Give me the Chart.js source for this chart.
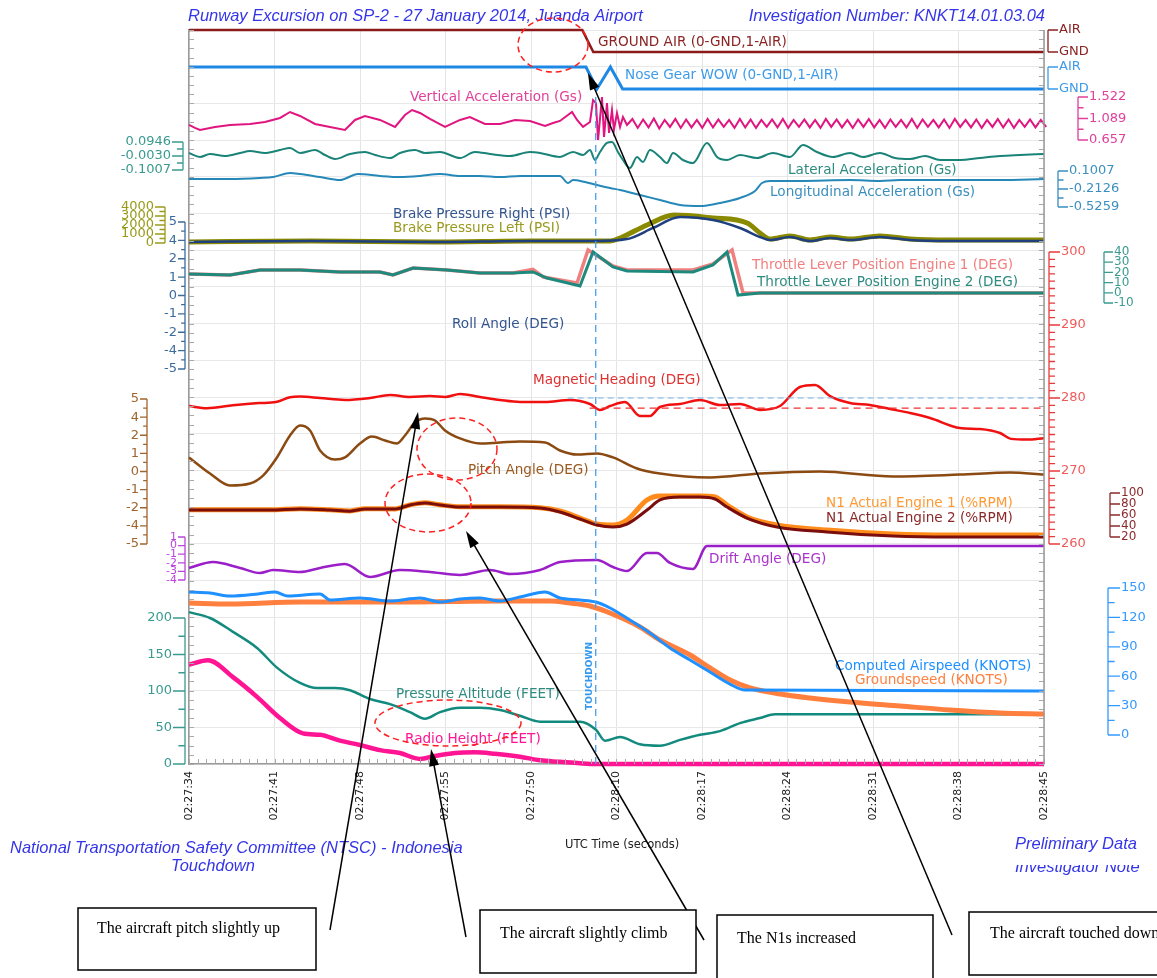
<!DOCTYPE html>
<html>
<head>
<meta charset="utf-8">
<title>Runway Excursion on SP-2 - FDR plot</title>
<script src="https://cdn.jsdelivr.net/npm/chart.js@4.4.1/dist/chart.umd.min.js"></script>
<style>
  html, body { margin: 0; padding: 0; background: #fff; }
  #wrap { position: relative; width: 1157px; height: 978px; }
</style>
</head>
<body>
<div id="wrap"><canvas id="fdr"></canvas></div>
<script>
// -----------------------------------------------------------
// TIME AXIS  (t = seconds after 02:27:34)
// -----------------------------------------------------------
const TIME_LABELS = ["02:27:34","02:27:41","02:27:48","02:27:55","02:27:50","02:28:10",
                     "02:28:17","02:28:24","02:28:31","02:28:38","02:28:45"];
const TOUCHDOWN_T = 33.3;

// -----------------------------------------------------------
// SERIES DATA
// -----------------------------------------------------------
const groundAirT = [0, 32.2, 33.1, 70];
const groundAirV = [1, 1, 0, 0];

const noseWowT = [0, 32.5, 33.4, 34.5, 35.5, 70];
const noseWowV = [1, 1, 0, 1, 0, 0];

const vertAccT = [0,0.49,0.9,2.13,3.36,4.99,6.22,7.45,8.27,9.09,10.32,11.54,12.77,13.59,14.41,15.64,16.87,17.68,18.26,18.91,
                  19.73,20.96,22.19,23.0,24.23,25.46,26.69,27.92,29.15,29.8,30.37,31.36,31.77,32.26,32.83,33.08,33.32,33.49,33.81,33.98,
                  34.22,34.39,34.63,34.79,35.04,35.29,35.53,35.86];
const vertAccV = [0.96,0.90,0.86,0.92,0.96,0.98,1.02,1.10,1.22,1.14,0.98,0.92,0.86,1.06,1.14,1.06,0.92,1.16,1.26,1.20,
                  1.08,0.92,1.06,1.12,0.98,0.98,1.06,1.04,0.94,1.00,1.04,1.22,1.06,0.92,1.02,1.46,1.40,0.66,1.52,0.72,
                  1.40,0.80,1.26,0.86,1.20,0.92,1.12,0.96];
// after touchdown the trace rings at a steady sample step
const vertAccTailStart = 36.3, vertAccTailStep = 0.44;
const vertAccTail = [1.08,0.90,1.07,0.91,1.09,0.89,1.06,0.92,1.08,0.90,1.07,0.91,1.06,0.90,1.08,0.91,1.07,0.92,1.06,0.90,
                     1.08,0.91,1.07,0.90,1.06,0.92,1.07,0.91,1.08,0.90,1.06,0.92,1.07,0.91,1.06,0.90,1.08,0.92,1.07,0.91,
                     1.06,0.90,1.07,0.92,1.08,0.91,1.06,0.90,1.07,0.92,1.06,0.91,1.08,0.90,1.07,0.92,1.06,0.91,1.07,0.90,
                     1.08,0.92,1.06,0.91,1.07,0.90,1.06,0.92,1.08,0.91,1.07,0.90,1.06,0.92,1.07,0.91,1.06,0.92];

const latT = [0,0.9,1.72,2.95,4.18,4.99,6.22,7.45,8.27,9.09,10.32,11.13,11.95,13.18,14.41,15.23,16.46,17.27,18.5,19.32,
              20.55,22.19,23.4,24.64,26.28,27.92,28.74,30.37,31.44,32.26,32.83,33.24,33.65,34.22,34.63,35.12,35.53,36.1,36.68,37.17,
              37.74,38.56,39.13,39.63,40.44,41.26,42.41,43.23,44.05,45.11,46.5,47.81,49.2,50.27,51.41,52.72,54.12,55.18,56.57,57.8,
              59.03,60.26,61.49,63.12,64.76,66.4,68.03,70];
const latV = [0.018,-0.010,0.011,-0.003,0.018,0.032,0.018,0.039,0.053,0.018,0.039,0.004,-0.024,0.011,0.025,0.004,-0.017,0.018,0.039,0.018,
              0.025,-0.017,0.025,0.011,-0.003,0.025,0.018,-0.010,0.025,0.004,0.039,-0.031,0.025,0.088,0.095,0.025,-0.031,-0.087,-0.010,-0.045,
              0.039,-0.010,-0.052,0.018,-0.031,-0.052,0.088,-0.010,-0.031,0.004,-0.017,0.018,-0.010,0.074,0.025,-0.010,0.018,-0.010,0.018,-0.017,
              -0.024,-0.003,-0.031,-0.031,-0.017,-0.003,0.004,0.011];

const lonT = [0,3.36,5.81,6.88,8.27,9.09,10.73,12.36,13.84,15.64,17.27,18.91,20.55,22.19,23.82,25.46,27.1,30.37,31.03,31.44,
              32.42,33.4,34.47,35.29,36.92,38.56,40.2,41.84,43.47,45.11,46.34,46.91,47.57,50.02,54.12,56.57,58.21,62.3,66.4,70];
const lonV = [-0.039,-0.039,-0.021,-0.004,0.066,0.049,-0.004,-0.056,0.049,0.014,-0.004,0.014,0.049,0.014,0.014,-0.004,0.014,0.014,-0.108,-0.056,
              -0.091,-0.143,-0.195,-0.230,-0.317,-0.404,-0.491,-0.509,-0.456,-0.369,-0.247,-0.108,-0.073,-0.073,-0.056,-0.073,-0.056,-0.056,-0.056,-0.039];

const brakeRT = [0,10,20,28,33.1,35.86,37.99,40.2,42.9,45.11,46.75,47.57,49.2,50.84,52.48,54.12,56.57,59.03,62.3,70];
const brakeRV = [110,220,110,220,220,440,1670,2890,2560,1670,670,330,670,220,560,330,670,330,220,220];
const brakeLT = [0,10,20,28,34.5,35.3,37.5,39.7,42.9,45.7,46.75,47.57,49.2,50.84,52.48,54.12,56.57,59.03,62.3,70];
const brakeLV = [110,220,110,220,220,560,2000,3110,2780,2220,1110,440,780,330,670,440,780,440,330,330];

const thr1T = [0,3.36,5.81,9.09,12.36,15.64,16.7,18.34,21.12,23.82,26.53,28.16,29.0,31.77,32.67,34.71,35.86,41.26,42.9,44.46,45.36,70];
const thr1V = [18.4,17.5,22.4,22.4,20.4,20.4,17.5,24.3,22.4,19.4,19.4,23.0,15.5,9.6,42.0,26.3,22.4,22.4,28.3,42.0,-0.2,-0.2];
const thr2T = [0,3.36,5.81,9.09,12.36,15.64,16.7,18.34,21.12,23.82,26.53,28.16,29.31,32.01,33.08,34.71,35.86,41.26,42.9,44.05,44.95,46.75,70];
const thr2V = [18.4,17.5,22.4,22.4,20.4,20.4,17.5,24.3,22.4,19.4,19.4,20.4,14.5,6.7,40,25.3,21.4,20.4,27.3,40,-2.2,-0.2,-0.2];

const rollT = [0,1.23,2.37,3.36,4.34,6.3,7.2,9.09,10.73,12.94,14.0,15.64,17.27,18.91,19.73,20.55,23.0,23.82,25.46,27.1,
               28.74,30.37,32.01,33.65,35.29,37.74,40.2,41.84,44.29,46.75,49.2,51.66,54.12,56.57,59.03,61.49,64.76,67.3,70];
const rollV = [-0.1,0.37,-0.3,-0.85,-0.85,0.85,1.05,0.65,-0.31,-2.14,-1.33,-0.44,-0.51,-0.17,-0.51,-0.1,-1.12,-1.33,-1.12,-0.85,
               -0.78,-0.51,-0.31,-0.03,-0.31,-0.44,-0.51,-0.58,-0.37,-0.17,-0.1,0.17,0.17,0.17,0.37,0.24,0.17,-0.17,-0.31];

const hdgT = [0,1.47,3.6,5.73,7.12,8.27,9.09,10.73,12.77,14.82,16.46,18.09,19.73,20.96,22.19,23.82,25.46,27.1,29.15,31.19,
              32.83,33.65,34.47,35.7,36.92,37.74,38.56,40.2,41.84,43.47,45.11,46.75,48.39,50.02,51.25,52.48,54.12,55.75,57.39,59.03,
              60.67,63.12,64.76,66.4,67.3,68.6,70];
const hdgV = [278.9,278.6,279.0,279.3,279.45,280.1,280.2,280.0,279.73,280.0,280.41,280.14,280.27,280.14,280.55,280.14,279.73,279.45,279.45,279.73,
              279.18,278.36,278.9,279.45,277.53,277.53,278.77,279.18,279.73,279.04,279.18,278.36,278.9,281.51,281.78,280.27,279.32,279.04,278.49,277.95,
              277.26,275.89,275.75,275.2,274.4,274.3,274.5];
const hdgRefBlue = 280, hdgRefRed = 278.6;

const pitchT = [0,1.72,3.36,4.99,6.06,7.2,8.27,9.09,9.91,10.73,11.95,12.77,14.0,14.98,16.05,17.03,17.68,18.5,19.32,20.14,
                20.96,22.19,23.82,25.46,27.1,29.15,30.37,31.77,33.4,34.71,36.68,38.56,42.65,46.75,51.66,57.64,63.12,67.22,70];
const pitchV = [0.97,-0.14,-0.97,-0.83,-0.28,0.97,2.48,3.17,2.83,1.45,0.83,0.97,1.93,2.41,2.14,1.93,2.48,3.38,3.66,3.52,
                2.83,2.28,1.93,2.0,2.07,2.0,1.45,1.17,1.24,0.97,0.21,-0.14,-0.41,-0.14,0,-0.34,-0.21,-0.07,-0.21];

const n1T  = [0,3.36,6.63,9.09,11.54,13.18,14.41,16.87,18.09,19.32,20.55,22.19,25.46,28.74,30.37,32.01,33.4,34.71,35.86,37.5,
              38.56,40.2,41.84,43.06,44.05,45.68,48.14,52.23,57.64,62.3,70];
const n1E1 = [69.5,69.5,69.5,71.5,69.5,67.5,71.5,71,78.5,82.5,78.5,75,75,73,67.3,54.5,43.6,41.8,50.9,87.3,
              94.5,94.5,94.5,92.7,78.2,56.4,41.8,32.7,25.5,23.6,23.6];
const n1E2 = [69.1,69.1,69.1,71,69.1,67,71,70.9,78.2,81.8,78.2,74.5,74.5,72.7,65.5,52.7,41.8,38.2,43.6,69.1,
              87.3,92.7,92.7,89.1,74.5,54.5,38.2,29.1,21.8,20,20];

const driftT = [0,1.96,4.18,5.81,6.88,9.09,10.73,12.77,14.82,17.27,19.73,22.19,24.64,26.28,28.74,30.37,33.4,34.71,35.86,37.5,
                38.31,39.38,41.26,42.41,70];
const driftV = [-2.6,-1.91,-2.6,-3.19,-2.84,-3.07,-2.6,-2.14,-3.65,-2.84,-3.07,-3.42,-2.84,-3.3,-2.84,-1.91,-1.67,-2.49,-2.95,-0.86,
                -0.86,-2.02,-2.72,-0.05,-0.05];

const casT = [0,1.72,3.36,5.65,7.04,8.1,10.73,11.54,14.0,16.46,18.91,20.55,22.19,23.82,25.46,27.1,29.15,30.37,32.01,33.32,
              34.47,36.1,37.74,39.38,41.02,42.65,44.29,45.52,70];
const casV = [145.9,144.9,141.8,143.9,145.9,141.8,143.9,137.8,139.8,136.7,139.8,135.7,138.8,139.8,136.7,140.8,145.9,139.8,137.8,135.7,
              129.6,117.3,104.1,88.8,76.5,64.3,52.0,45.9,44.9];
const gsT = [0,3.36,9.09,17.27,25.46,29.56,31.19,32.83,34.47,36.92,38.56,41.02,42.65,44.29,45.93,48.39,50.84,54.12,58.21,62.3,66.4,70];
const gsV = [134.7,133.7,135.7,135.7,136.7,136.7,134.7,131.6,124.5,110.2,96.9,81.6,68.4,56.1,48.0,41.8,37.8,33.7,29.6,25.5,22.4,21.4];

const altT = [0,1.72,3.6,5.57,7.2,9.09,10.48,11.95,13.18,14.82,16.46,18.09,19.32,20.55,22.19,23.82,25.46,27.1,28.74,30.37,
              32.01,33.32,34.06,35.29,36.92,38.56,40.2,41.84,43.47,45.11,46.75,47.98,50.02,70];
const altV = [208,200,181,159,132,111,104,104,101,89,82,71,62,71,77,77,74,66,58,58,
              58,47,32,37,27,25,33,40,45,56,63,68,68,68];
const radT = [0,1.56,3.6,5.57,7.45,9.33,10.73,12.36,14.0,15.64,17.27,18.91,20.14,21.78,23.41,25.05,27.1,28.74,30.37,32.01,33.32,70];
const radV = [136,142,119,92,63,42,40,32,26,19,15,7,11,15,16,14,10,5,3,1,0,0];

// -----------------------------------------------------------
// AXIS TICKS (each trace has its own little scale)
// -----------------------------------------------------------
const gndAirTicks = [1, 0], gndAirLabels = ["AIR", "GND"];
const vertTicks = [1.522, 1.089, 0.657];
const latTicks = [0.0946, -0.0030, -0.1007];
const lonTicks = [0.1007, -0.2126, -0.5259];
const brakeTicks = [4000, 3000, 2000, 1000, 0];
const degTicks = [5, 3.75, 2.5, 1.25, 0, -1.25, -2.5, -3.75, -5];
const degLabels = ["5", "4", "2", "1", "0", "-1", "-2", "-4", "-5"];
const thrTicks = [40, 30, 20, 10, 0, -10];
const hdgTicks = [300, 290, 280, 270, 260];
const n1Ticks = [100, 80, 60, 40, 20];
const driftTicks = [1, 0, -1, -2, -3, -4];
const altTicks = [200, 150, 100, 50, 0];
const spdTicks = [150, 120, 90, 60, 30, 0];

// -----------------------------------------------------------
// LAYOUT
// -----------------------------------------------------------
const AREA_TOP = 30, AREA_BOTTOM = 764;

// scale whose range puts vTop at pixel pTop and vBot at pixel pBot
function band(vTop, pTop, vBot, pBot) {
  const k = (pBot - pTop) / (vTop - vBot);
  return { type: "linear", display: false,
           max: vTop + (pTop - AREA_TOP) / k, min: vBot - (AREA_BOTTOM - pBot) / k };
}

function pts(ts, vs) { return ts.map((t, i) => ({ x: t, y: vs[i] })); }

function line(label, data, axis, color, width, smooth, extra) {
  return Object.assign({
    label, data, yAxisID: axis, borderColor: color, backgroundColor: color,
    borderWidth: width, pointRadius: 0, fill: false, clip: 6,
    tension: 0, cubicInterpolationMode: smooth ? "monotone" : "default"
  }, extra || {});
}

const vertAccPts = pts(vertAccT, vertAccV)
  .concat(vertAccTail.map((v, i) => ({ x: vertAccTailStart + i * vertAccTailStep, y: v })));

const datasets = [
  line("Touchdown", [{ x: TOUCHDOWN_T, y: 0 }, { x: TOUCHDOWN_T, y: 18.2 }], "grid", "#4A9FE8", 1.3, false, { borderDash: [7, 5] }),
  line("Ground Air", pts(groundAirT, groundAirV), "ga", "#8B1A1A", 2.5, false),
  line("Nose Gear WOW", pts(noseWowT, noseWowV), "nose", "#1E88E5", 3, false),
  line("Vertical Acceleration", vertAccPts, "vacc", "#E0157F", 2, false),
  line("Lateral Acceleration", pts(latT, latV), "lat", "#1A8377", 2, true),
  line("Longitudinal Acceleration", pts(lonT, lonV), "lon", "#2588B8", 2, true),
  line("Brake Pressure Right", pts(brakeRT, brakeRV), "brake", "#1F3F7F", 2.5, true),
  line("Brake Pressure Left", pts(brakeLT, brakeLV), "brake", "#8A8A00", 5, true),
  line("Throttle 2", pts(thr2T, thr2V), "thr", "#1E8A7E", 3, false),
  line("Throttle 1", pts(thr1T, thr1V), "thr", "#F08080", 3.5, false),
  line("Roll Angle", pts(rollT, rollV), "roll", "#174B7A", 2.5, true),
  line("Heading ref blue", [{ x: 31.0, y: hdgRefBlue }, { x: 70, y: hdgRefBlue }], "hdg", "#7AB4EA", 1.2, false, { borderDash: [6, 4] }),
  line("Heading ref red", [{ x: 32.8, y: hdgRefRed }, { x: 70, y: hdgRefRed }], "hdg", "#F03030", 1.2, false, { borderDash: [7, 5] }),
  line("Magnetic Heading", pts(hdgT, hdgV), "hdg", "#F01010", 2.5, true),
  line("Pitch Angle", pts(pitchT, pitchV), "pitch", "#8B4A12", 2.5, true),
  line("N1 Engine 2", pts(n1T, n1E2), "n1", "#7B0D0D", 3, true),
  line("N1 Engine 1", pts(n1T, n1E1), "n1", "#FF8C1A", 5, true),
  line("Drift Angle", pts(driftT, driftV), "drift", "#9B1FC8", 2.5, true),
  line("Computed Airspeed", pts(casT, casV), "spd", "#1E90FF", 3, true),
  line("Groundspeed", pts(gsT, gsV), "spd", "#FF7F3F", 5, true),
  line("Radio Height", pts(radT, radV), "alt", "#FF1493", 4.5, true),
  line("Pressure Altitude", pts(altT, altV), "alt", "#138A7E", 2.5, true)
];

// -----------------------------------------------------------
// DECORATION: custom axes, labels, notes
// -----------------------------------------------------------
const AXES = [
  { id: "ga",    side: "R", x: 1048, ticks: gndAirTicks, labels: gndAirLabels, color: "#8B2323", len: 10 },
  { id: "nose",  side: "R", x: 1048, ticks: gndAirTicks, labels: gndAirLabels, color: "#3D9BE9", len: 10 },
  { id: "vacc",  side: "R", x: 1078, ticks: vertTicks, labels: ["1.522","1.089","0.657"], color: "#E0409A", len: 10,
    minor: [1.3055, 0.873] },
  { id: "lon",   side: "R", x: 1058, ticks: lonTicks, labels: ["0.1007","-0.2126","-0.5259"], color: "#3A8FBF", len: 10,
    minor: [-0.056, -0.369] },
  { id: "hdg",   side: "R", x: 1049, ticks: hdgTicks, labels: ["300","290","280","270","260"], color: "#E83A3A",
    labelColor: "#F05A5A", len: 11, minorStep: 1 },
  { id: "thr",   side: "R", x: 1104, ticks: thrTicks, labels: ["40","30","20","10","0","-10"], color: "#3A9A90", len: 9,
    font: "12px 'DejaVu Sans'" },
  { id: "n1",    side: "R", x: 1110, ticks: n1Ticks, labels: ["100","80","60","40","20"], color: "#8B2A2A", len: 10,
    font: "12px 'DejaVu Sans'" },
  { id: "spd",   side: "R", x: 1108, ticks: spdTicks, labels: ["150","120","90","60","30","0"], color: "#3399FF", len: 12,
    minor: [135, 105, 75, 45, 15] },
  { id: "lat",   side: "L", x: 183, ticks: latTicks, labels: ["0.0946","-0.0030","-0.1007"], color: "#3A9A90", len: 11,
    minor: [0.0458, -0.0518] },
  { id: "brake", side: "L", x: 165, ticks: brakeTicks, labels: ["4000","3000","2000","1000","0"], color: "#9A9A1A", len: 10,
    minor: [3500, 2500, 1500, 500] },
  { id: "roll",  side: "L", x: 185, ticks: degTicks, labels: degLabels, color: "#3C6C9C", len: 7,
    minor: [4.375, 3.125, 1.875, 0.625, -0.625, -1.875, -3.125, -4.375] },
  { id: "pitch", side: "L", x: 147, ticks: degTicks, labels: degLabels, color: "#A0642E", len: 7,
    minor: [4.375, 3.125, 1.875, 0.625, -0.625, -1.875, -3.125, -4.375] },
  { id: "drift", side: "L", x: 185, ticks: driftTicks, labels: ["1","0","-1","-2","-3","-4"], color: "#BB44DD", len: 7,
    font: "11px 'DejaVu Sans'" },
  { id: "alt",   side: "L", x: 185, ticks: altTicks, labels: ["200","150","100","50","0"], color: "#3A9A90", len: 12,
    minor: [175, 125, 75, 25] }
];

const TRACE_LABELS = [
  ["GROUND AIR (0-GND,1-AIR)", 598, 42, "#8B2323"],
  ["Nose Gear WOW (0-GND,1-AIR)", 625, 75, "#3D9BE9"],
  ["Vertical Acceleration (Gs)", 410, 97, "#E0409A"],
  ["Lateral Acceleration (Gs)", 788, 170, "#2E8B80"],
  ["Longitudinal Acceleration (Gs)", 770, 192, "#3A8FBF"],
  ["Brake Pressure Right (PSI)", 393, 214, "#33558F"],
  ["Brake Pressure Left (PSI)", 393, 228, "#9A9A20"],
  ["Throttle Lever Position Engine 1 (DEG)", 752, 265, "#F08080"],
  ["Throttle Lever Position Engine 2 (DEG)", 757, 282, "#2E8B80"],
  ["Roll Angle (DEG)", 452, 324, "#33558F"],
  ["Magnetic Heading (DEG)", 533, 380, "#E03030"],
  ["Pitch Angle (DEG)", 468, 470, "#9A5A20"],
  ["N1 Actual Engine 1 (%RPM)", 826, 503, "#FF9933"],
  ["N1 Actual Engine 2 (%RPM)", 826, 518, "#8B2A2A"],
  ["Drift Angle (DEG)", 709, 559, "#AA33CC"],
  ["Computed Airspeed (KNOTS)", 835, 666, "#1E90FF"],
  ["Groundspeed (KNOTS)", 855, 680, "#FF8040"],
  ["Pressure Altitude (FEET)", 396, 694, "#2E8B80"],
  ["Radio Height (FEET)", 405, 739, "#FF1493"]
];

const NOTE_BOXES = [
  { text: "The aircraft pitch slightly up", box: [78, 908, 238, 62], tx: 97,  ty: 929, from: [330, 930], to: [418, 412] },
  { text: "The aircraft slightly climb",    box: [480, 910, 216, 63], tx: 500, ty: 934, from: [466, 937], to: [431, 749] },
  { text: "The N1s increased",              box: [717, 915, 216, 70], tx: 737, ty: 939, from: [704, 940], to: [466, 531] },
  { text: "The aircraft touched down",      box: [969, 912, 200, 63], tx: 990, ty: 934, from: [952, 935], to: [588, 73] }
];

const RED_RINGS = [[553, 45, 35, 27], [457, 449, 40, 31], [428, 503, 43, 29], [448, 723, 73, 23]];

function drawAxis(ctx, chart, a) {
  const sc = chart.scales[a.id];
  const ys = a.ticks.map(v => sc.getPixelForValue(v));
  const dir = a.side === "L" ? -1 : 1;
  ctx.save();
  ctx.strokeStyle = a.color;
  ctx.lineWidth = 1.3;
  ctx.beginPath();
  ctx.moveTo(a.x, Math.min(...ys));
  ctx.lineTo(a.x, Math.max(...ys));
  ys.forEach(y => { ctx.moveTo(a.x, y); ctx.lineTo(a.x + dir * a.len, y); });
  let minor = a.minor || [];
  if (a.minorStep) {
    minor = [];
    const lo = Math.min(...a.ticks), hi = Math.max(...a.ticks);
    for (let v = lo; v <= hi; v += a.minorStep) if (!a.ticks.includes(v)) minor.push(v);
  }
  minor.forEach(v => {
    const y = sc.getPixelForValue(v);
    ctx.moveTo(a.x, y); ctx.lineTo(a.x + dir * a.len * 0.55, y);
  });
  ctx.stroke();
  ctx.fillStyle = a.labelColor || a.color;
  ctx.font = a.font || "13px 'DejaVu Sans'";
  ctx.textAlign = a.side === "L" ? "right" : "left";
  ctx.textBaseline = "middle";
  ys.forEach((y, i) => ctx.fillText(a.labels[i], a.x + dir * (a.len + 1), y));
  ctx.restore();
}

function drawArrow(ctx, from, to) {
  const [x1, y1] = from, [x2, y2] = to;
  const a = Math.atan2(y2 - y1, x2 - x1);
  const c = Math.cos(a), s = Math.sin(a);
  ctx.beginPath();
  ctx.moveTo(x1, y1);
  ctx.lineTo(x2 - 12 * c, y2 - 12 * s);
  ctx.stroke();
  ctx.beginPath();
  ctx.moveTo(x2, y2);
  ctx.lineTo(x2 - 17 * c + 5 * s, y2 - 17 * s - 5 * c);
  ctx.lineTo(x2 - 17 * c - 5 * s, y2 - 17 * s + 5 * c);
  ctx.closePath();
  ctx.fill();
}

const decorations = {
  id: "decorations",
  afterDraw(chart) {
    const ctx = chart.ctx;
    const area = chart.chartArea;
    const xs = chart.scales.x, gs = chart.scales.grid;

    // minor edge ticks + right border
    ctx.save();
    ctx.strokeStyle = "#a8a8a8";
    ctx.lineWidth = 1;
    ctx.beginPath();
    for (let v = 0; v <= 20; v += 0.25) {
      const y = Math.round(gs.getPixelForValue(v)) + 0.5;
      ctx.moveTo(area.left, y); ctx.lineTo(area.left + 5, y);
      ctx.moveTo(area.right, y); ctx.lineTo(area.right - 5, y);
    }
    for (let t = 0; t <= 70.01; t += 0.7) {
      const x = Math.round(xs.getPixelForValue(t)) + 0.5;
      ctx.moveTo(x, area.bottom); ctx.lineTo(x, area.bottom - 5);
    }
    ctx.stroke();
    ctx.strokeStyle = "#999";
    ctx.lineWidth = 1.5;
    ctx.beginPath();
    ctx.moveTo(area.right, area.top); ctx.lineTo(area.right, area.bottom);
    ctx.stroke();
    ctx.restore();

    AXES.forEach(a => drawAxis(ctx, chart, a));

    // trace labels
    ctx.save();
    ctx.font = "13.6px 'DejaVu Sans'";
    ctx.textBaseline = "middle";
    ctx.textAlign = "left";
    TRACE_LABELS.forEach(([txt, x, y, c]) => { ctx.fillStyle = c; ctx.fillText(txt, x, y); });

    // touchdown tag
    ctx.save();
    ctx.translate(xs.getPixelForValue(TOUCHDOWN_T) - 6, 676);
    ctx.rotate(-Math.PI / 2);
    ctx.font = "bold 9px 'DejaVu Sans'";
    ctx.fillStyle = "#3399EE";
    ctx.textAlign = "center";
    ctx.fillText("TOUCHDOWN", 0, 0);
    ctx.restore();

    // header / footer
    ctx.font = "italic 16.5px 'Liberation Sans'";
    ctx.fillStyle = "#3535E8";
    ctx.textBaseline = "middle";
    ctx.fillText("Runway Excursion on SP-2 - 27 January 2014, Juanda Airport", 188, 16);
    ctx.textAlign = "right";
    ctx.fillText("Investigation Number: KNKT14.01.03.04", 1045, 16);
    ctx.textAlign = "left";
    ctx.fillText("National Transportation Safety Committee (NTSC) - Indonesia", 10, 848);
    ctx.textAlign = "center";
    ctx.fillText("Touchdown", 213, 866);
    ctx.textAlign = "left";
    ctx.fillText("Preliminary Data", 1015, 844);
    ctx.save();
    ctx.beginPath();
    ctx.rect(1000, 865, 157, 20);
    ctx.clip();
    ctx.fillText("Investigator Note", 1015, 867);
    ctx.restore();
    ctx.font = "11.5px 'DejaVu Sans'";
    ctx.fillStyle = "#222";
    ctx.fillText("UTC Time (seconds)", 565, 845);
    ctx.restore();

    // red dashed rings
    ctx.save();
    ctx.strokeStyle = "#FF2020";
    ctx.lineWidth = 1.5;
    ctx.setLineDash([6, 4]);
    RED_RINGS.forEach(([cx, cy, rx, ry]) => {
      ctx.beginPath();
      ctx.ellipse(cx, cy, rx, ry, 0, 0, Math.PI * 2);
      ctx.stroke();
    });
    ctx.restore();

    // note boxes and arrows
    ctx.save();
    ctx.strokeStyle = "#000";
    ctx.fillStyle = "#000";
    ctx.lineWidth = 1.5;
    NOTE_BOXES.forEach(n => drawArrow(ctx, n.from, n.to));
    NOTE_BOXES.forEach(n => {
      const [bx, by, bw, bh] = n.box;
      ctx.fillStyle = "#fff";
      ctx.fillRect(bx, by, bw, bh);
      ctx.strokeRect(bx, by, bw, bh);
      ctx.fillStyle = "#000";
      ctx.font = "16px 'Liberation Serif'";
      ctx.textBaseline = "middle";
      ctx.fillText(n.text, n.tx, n.ty);
    });
    ctx.restore();
  }
};

// -----------------------------------------------------------
// CHART
// -----------------------------------------------------------
Chart.defaults.font.family = "'DejaVu Sans'";

new Chart(document.getElementById("fdr"), {
  type: "line",
  data: { datasets },
  options: {
    responsive: true,
    maintainAspectRatio: false,
    devicePixelRatio: 1,
    animation: false,
    events: [],
    layout: { padding: { top: AREA_TOP, left: 189, right: 113, bottom: 978 - AREA_BOTTOM - 70 } },
    plugins: { legend: { display: false }, tooltip: { enabled: false } },
    scales: {
      x: {
        type: "linear", min: 0, max: 70,
        afterFit: s => { s.height = 70; },
        afterBuildTicks: s => { s.ticks = TIME_LABELS.map((_, i) => ({ value: i * 7 })); },
        ticks: {
          autoSkip: false, minRotation: 90, maxRotation: 90, padding: 7,
          color: "#222", font: { size: 11 },
          callback: (v, i) => TIME_LABELS[i]
        },
        grid: { color: "#e4e4e4", drawTicks: false },
        border: { color: "#999", width: 1.5 }
      },
      grid: {
        type: "linear", position: "left", min: 0, max: 20,
        afterFit: s => { s.width = 0; },
        ticks: { display: false, stepSize: 1 },
        grid: { color: "#e8e8e8", drawTicks: false },
        border: { color: "#999", width: 1.5 }
      },
      ga:    band(1, 30, 0, 52),
      nose:  band(1, 67, 0, 89),
      vacc:  band(1.522, 97, 0.657, 140),
      lat:   band(0.0946, 142, -0.1007, 170),
      lon:   band(0.1007, 171, -0.5259, 207),
      brake: band(4000, 207, 0, 243),
      roll:  band(5, 252, -5, 399),
      thr:   band(40, 252, -10, 303),
      hdg:   band(300, 252, 260, 544),
      pitch: band(5, 399, -5, 544),
      n1:    band(100, 493, 20, 537),
      drift: band(1, 537, -4, 580),
      spd:   band(150, 588, 0, 735),
      alt:   band(200, 618, 0, 764)
    }
  },
  plugins: [decorations]
});
</script>
</body>
</html>
